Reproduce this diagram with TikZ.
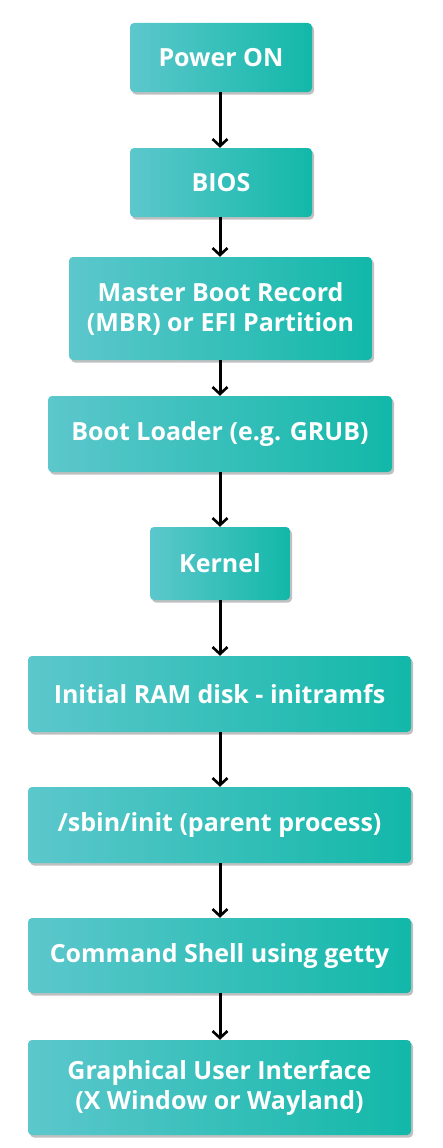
\documentclass[tikz,border=0pt]{standalone}
\usepackage{fontspec}
\setmainfont{Open Sans}[BoldFont={Open Sans Bold}]
\usetikzlibrary{arrows.meta,shadows,shapes.misc}
\definecolor{tealL}{HTML}{5CC7CC}
\definecolor{tealR}{HTML}{12B8A9}
\tikzset{
  box/.style={rectangle, rounded corners=4pt, inner sep=0pt,
    left color=tealL, right color=tealR, draw=none,
    text=white, font=\bfseries\fontsize{25}{30}\selectfont, align=center,
    drop shadow={shadow xshift=2pt, shadow yshift=-2.5pt, fill=black!55, opacity=0.45}},
  conn/.style={line width=3pt, draw=black, -{Straight Barb[length=7pt,width=15pt,line width=2.6pt]}}
}
\begin{document}
\begin{tikzpicture}[x=1pt,y=-1pt]
\useasboundingbox (0,0) rectangle (442,1148);
\node[box, minimum width=182pt, minimum height=69pt] (p1) at (221,57.5) {Power ON};
\node[box, minimum width=182pt, minimum height=69pt] (p2) at (221,182.5) {BIOS};
\node[box, minimum width=303pt, minimum height=103pt] (p3) at (220.5,308.5) {Master Boot Record\\(MBR) or EFI Partition};
\node[box, minimum width=344pt, minimum height=76pt] (p4) at (220,434) {Boot Loader (e.g. GRUB)};
\node[box, minimum width=140pt, minimum height=73pt] (p5) at (220,563.5) {Kernel};
\node[box, minimum width=383pt, minimum height=76pt] (p6) at (219.5,694) {Initial RAM disk - initramfs};
\node[box, minimum width=383pt, minimum height=76pt] (p7) at (219.5,825) {/sbin/init (parent process)};
\node[box, minimum width=383pt, minimum height=75pt] (p8) at (219.5,955.5) {Command Shell using getty};
\node[box, minimum width=383pt, minimum height=95pt] (p9) at (219.5,1087.5) {Graphical User Interface\\(X Window or Wayland)};
\foreach \a/\b in {p1/p2,p2/p3,p3/p4,p4/p5,p5/p6,p6/p7,p7/p8,p8/p9}{
  \draw[conn] (\a.south -| 220,0) -- (\b.north -| 220,0);
}
\end{tikzpicture}
\end{document}
